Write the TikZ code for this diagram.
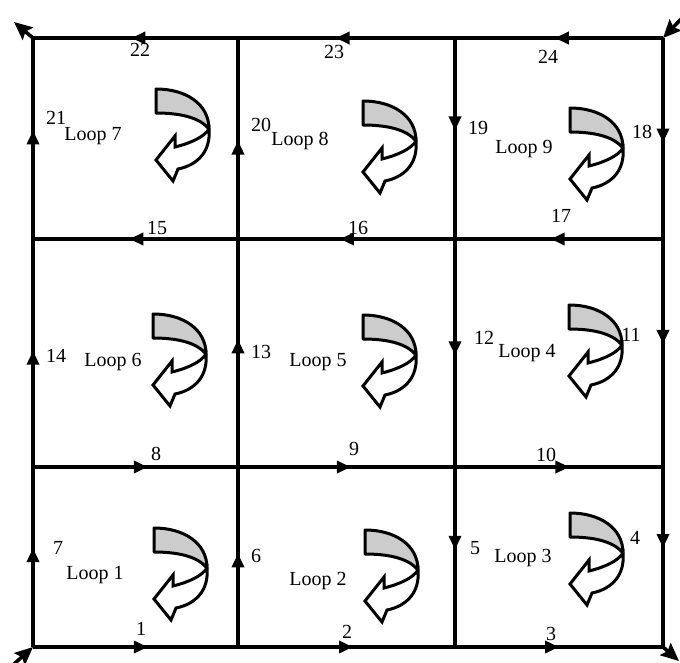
\documentclass[tikz,border=0pt]{standalone}
\usepackage{fontspec}
\setmainfont{Liberation Serif}
\usetikzlibrary{arrows.meta,decorations.markings}
\tikzset{
  gridline/.style={line width=3.6pt, line cap=butt},
  midarrow/.style={gridline, postaction={decorate},
    decoration={markings, mark=at position #1 with {\arrow{Triangle[length=14pt,width=12pt]}}}},
  cornerarrow/.style={line width=3.6pt, -{Stealth[length=18pt,width=16pt,inset=3pt]}},
  lbl/.style={font=\fontsize{20}{24}\selectfont, inner sep=0pt},
  looparrow/.pic={
    \draw[line width=3pt, fill=gray!40, line join=round]
      (0,0) .. controls (30,0) and (53,15) .. (53,40)
      .. controls (45,30) and (28,24) .. (0,24) -- cycle;
    \draw[line width=3pt, fill=white, line join=miter, miter limit=6]
      (53,40) .. controls (55,62) and (42,76) .. (22,80) -- (17,92) -- (0,71)
      -- (19,47) -- (19,58) .. controls (35,54) and (48,48) .. (53,40) -- cycle;
  }
}
\begin{document}
\begin{tikzpicture}[x=1pt,y=-1pt]
\useasboundingbox (0,0) rectangle (680,662);
% grid coordinates
\foreach \i/\x in {0/33,1/238,2/455,3/663}{
  \foreach \j/\y in {0/38,1/239,2/467,3/647}{
    \coordinate (c\i\j) at (\x,\y);
  }
}
\coordinate (tl) at (14,22);
\coordinate (tr) at (682,18);
\coordinate (bl) at (14,664);
\coordinate (br) at (679,661);
% top row (leftward)
\draw[midarrow=0.52] (c10) -- (c00);
\draw[midarrow=0.55] (c20) -- (c10);
\draw[midarrow=0.52] (c30) -- (c20);
% row 1 (leftward)
\draw[midarrow=0.53] (c11) -- (c01);
\draw[midarrow=0.53] (c21) -- (c11);
\draw[midarrow=0.54] (c31) -- (c21);
% row 2 (rightward)
\draw[midarrow=0.56] (c02) -- (c12);
\draw[midarrow=0.52] (c12) -- (c22);
\draw[midarrow=0.55] (c22) -- (c32);
% row 3 (rightward)
\draw[midarrow=0.56] (c03) -- (c13);
\draw[midarrow=0.53] (c13) -- (c23);
\draw[midarrow=0.50] (c23) -- (c33);
% column 0 (upward)
\draw[midarrow=0.55] (c03) -- (c02);
\draw[midarrow=0.51] (c02) -- (c01);
\draw[midarrow=0.54] (c01) -- (c00);
% column 1 (upward)
\draw[midarrow=0.52] (c13) -- (c12);
\draw[midarrow=0.56] (c12) -- (c11);
\draw[midarrow=0.49] (c11) -- (c10);
% column 2 (downward)
\draw[midarrow=0.46] (c20) -- (c21);
\draw[midarrow=0.51] (c21) -- (c22);
\draw[midarrow=0.46] (c22) -- (c23);
% column 3 (downward)
\draw[midarrow=0.52] (c30) -- (c31);
\draw[midarrow=0.46] (c31) -- (c32);
\draw[midarrow=0.45] (c32) -- (c33);
% corner arrows
\draw[cornerarrow] (c00) -- (tl);
\draw[cornerarrow] (tr) -- (c30);
\draw[cornerarrow] (bl) -- (c03);
\draw[cornerarrow] (c33) -- (br);
% loop arrows
\pic at (156,89) {looparrow};
\pic at (363,101) {looparrow};
\pic at (570,108) {looparrow};
\pic at (153,314) {looparrow};
\pic at (363,315) {looparrow};
\pic at (569,305) {looparrow};
\pic at (154,528) {looparrow};
\pic at (365,530) {looparrow};
\pic at (570,513) {looparrow};
% labels
\node[lbl] (l22) at (140,50) {22};
\node[lbl] (l23) at (334,52) {23};
\node[lbl] (l24) at (548,57) {24};
\node[lbl] (l21) at (56,118) {21};
\node[lbl] (lp7) at (93,136) {Loop 7};
\node[lbl] (l20) at (261,125) {20};
\node[lbl] (lp8) at (300,141) {Loop 8};
\node[lbl] (l19) at (478,128) {19};
\node[lbl] (lp9) at (524,149) {Loop 9};
\node[lbl] (l18) at (642,132) {18};
\node[lbl] (l15) at (157,228) {15};
\node[lbl] (l16) at (358,228) {16};
\node[lbl] (l17) at (561,216) {17};
\node[lbl] (l14) at (56,356) {14};
\node[lbl] (lp6) at (113,362) {Loop 6};
\node[lbl] (l13) at (261,352) {13};
\node[lbl] (lp5) at (318,362) {Loop 5};
\node[lbl] (l12) at (484,338) {12};
\node[lbl] (lp4) at (527,353) {Loop 4};
\node[lbl] (l11) at (631,335) {11};
\node[lbl] (l8) at (156,454) {8};
\node[lbl] (l9) at (354,449) {9};
\node[lbl] (l10) at (546,455) {10};
\node[lbl] (l7) at (58,548) {7};
\node[lbl] (lp1) at (95,575) {Loop 1};
\node[lbl] (l6) at (256,556) {6};
\node[lbl] (lp2) at (318,581) {Loop 2};
\node[lbl] (l5) at (475,548) {5};
\node[lbl] (lp3) at (523,558) {Loop 3};
\node[lbl] (l4) at (635,538) {4};
\node[lbl] (l1) at (141,629) {1};
\node[lbl] (l2) at (347,632) {2};
\node[lbl] (l3) at (551,634) {3};
\end{tikzpicture}
\end{document}
